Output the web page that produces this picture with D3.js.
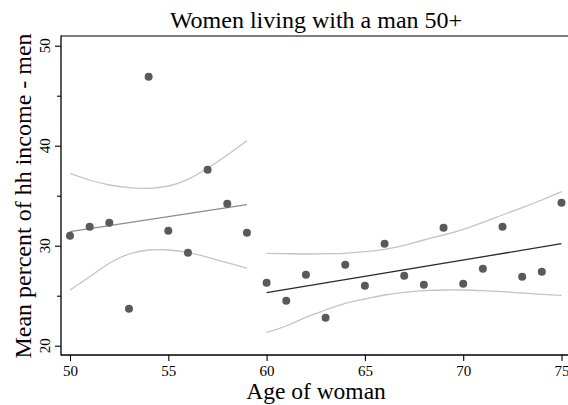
<!DOCTYPE html>
<meta charset="utf-8">
<style>
  body { margin: 0; background: #fff; }
  svg text { font-family: "Liberation Serif", "Times New Roman", serif; }
</style>
<svg width="568" height="405"></svg>
<script src="https://d3js.org/d3.v7.min.js"></script>
<script>
// ages of woman and mean percent of household income earned by men
var ages    = [50, 51, 52, 53, 54, 55, 56, 57, 58, 59,
               60, 61, 62, 63, 64, 65, 66, 67, 68, 69, 70, 71, 72, 73, 74, 75];
var percent = [31.0, 31.9, 32.3, 23.7, 46.9, 31.5, 29.3, 37.6, 34.2, 31.3,
               26.3, 24.5, 27.1, 22.8, 28.1, 26.0, 30.2, 27.0, 26.1, 31.8, 26.2, 27.7, 31.9, 26.9, 27.4, 34.3];

// linear fit with 95% CI, under 60
var agesA  = [50, 51, 52, 53, 54, 55, 56, 57, 58, 59];
var fitA   = [31.4, 31.7, 32.0, 32.3, 32.6, 32.9, 33.2, 33.5, 33.8, 34.1];
var upperA = [37.24, 36.57, 36.07, 35.80, 35.74, 35.97, 36.64, 37.74, 39.07, 40.5];
var lowerA = [25.57, 26.9, 28.24, 29.17, 29.57, 29.57, 29.34, 28.84, 28.3, 27.74];

// linear fit with 95% CI, 60 and over
var agesB  = [60, 61, 62, 63, 64, 65, 66, 67, 68, 69, 70, 71, 72, 73, 74, 75];
var fitB   = [25.3, 30.2];
var upperB = [29.24, 29.2, 29.17, 29.2, 29.24, 29.4, 29.64, 30.04, 30.57, 31.07, 31.64, 32.34, 33.07, 33.8, 34.57, 35.4];
var lowerB = [21.34, 21.97, 22.84, 23.57, 24.24, 24.67, 25.07, 25.34, 25.5, 25.57, 25.57, 25.5, 25.4, 25.27, 25.14, 25.04];

var xTicks = [50, 55, 60, 65, 70, 75];
var yTicks = [20, 30, 40, 50];
var yMinor = [25, 35, 45];

var svg = d3.select("svg");
var pLeft = 61, pRight = 568, pTop = 36, pBottom = 355;
var serif = "Liberation Serif, Times New Roman, serif";

var x = d3.scaleLinear().domain([50, 75]).range([70, 561.5]);
var y = d3.scaleLinear().domain([20, 50]).range([345.7, 45.7]);

// top frame line
svg.append("line").attr("x1", pLeft).attr("x2", pRight).attr("y1", pTop).attr("y2", pTop)
  .attr("stroke", "#000").attr("stroke-width", 1.1);

var xAxis = svg.append("g")
  .attr("transform", "translate(0," + pBottom + ")")
  .call(d3.axisBottom(x).tickValues(xTicks).tickSize(6).tickPadding(4).tickFormat(d3.format("d")));
xAxis.select(".domain").remove();
xAxis.attr("font-family", serif).attr("font-size", 15);
xAxis.selectAll("line").attr("stroke-width", 1.1);

var yAxis = svg.append("g")
  .attr("transform", "translate(" + pLeft + ",0)")
  .call(d3.axisLeft(y).tickValues(yTicks).tickSize(6).tickFormat(""));
yAxis.select(".domain").remove();
yAxis.selectAll("line").attr("stroke-width", 1.1);

var yAxisMinor = svg.append("g")
  .attr("transform", "translate(" + pLeft + ",0)")
  .call(d3.axisLeft(y).tickValues(yMinor).tickSize(4).tickFormat(""));
yAxisMinor.select(".domain").remove();
yAxisMinor.selectAll("line").attr("stroke-width", 1.1);

svg.selectAll(".ylab")
  .data(yTicks).enter()
  .append("text")
  .attr("class", "ylab")
  .attr("transform", function(d) { return "translate(49.5," + y(d) + ") rotate(-90)"; })
  .attr("text-anchor", "middle")
  .attr("font-family", serif)
  .attr("font-size", 15)
  .text(function(d) { return d; });

svg.append("line").attr("x1", pLeft).attr("x2", pLeft).attr("y1", pTop - 0.5).attr("y2", pBottom + 0.6)
  .attr("stroke", "#000").attr("stroke-width", 1.3);
svg.append("line").attr("x1", pLeft).attr("x2", pRight).attr("y1", pBottom).attr("y2", pBottom)
  .attr("stroke", "#000").attr("stroke-width", 1.3);

// confidence bands
var line = d3.line()
  .x(function(d) { return x(d[0]); })
  .y(function(d) { return y(d[1]); })
  .curve(d3.curveNatural);

[[agesA, upperA], [agesA, lowerA], [agesB, upperB], [agesB, lowerB]].forEach(function(s) {
  svg.append("path")
    .datum(d3.zip(s[0], s[1]))
    .attr("d", line)
    .attr("fill", "none")
    .attr("stroke", "#c4c4c4")
    .attr("stroke-width", 1.3);
});

// fitted lines
svg.append("path")
  .datum(d3.zip(agesA, fitA))
  .attr("d", line.curve(d3.curveLinear))
  .attr("fill", "none")
  .attr("stroke", "#8c8c8c")
  .attr("stroke-width", 1.3);

svg.append("path")
  .datum(d3.zip([agesB[0], agesB[agesB.length - 1]], fitB))
  .attr("d", line.curve(d3.curveLinear))
  .attr("fill", "none")
  .attr("stroke", "#2a2a2a")
  .attr("stroke-width", 1.3);

// points
svg.selectAll(".dot")
  .data(d3.zip(ages, percent)).enter()
  .append("circle")
  .attr("class", "dot")
  .attr("cx", function(d) { return x(d[0]); })
  .attr("cy", function(d) { return y(d[1]); })
  .attr("r", 4)
  .attr("fill", "#5a5a5a");

// titles
svg.append("text")
  .attr("x", 316).attr("y", 28)
  .attr("text-anchor", "middle")
  .attr("font-family", serif)
  .attr("font-size", 24)
  .text("Women living with a man 50+");

svg.append("text")
  .attr("x", 316).attr("y", 399)
  .attr("text-anchor", "middle")
  .attr("font-family", serif)
  .attr("font-size", 23.5)
  .text("Age of woman");

svg.append("text")
  .attr("transform", "translate(31,196) rotate(-90)")
  .attr("text-anchor", "middle")
  .attr("font-family", serif)
  .attr("font-size", 24)
  .text("Mean percent of hh income - men");
</script>
